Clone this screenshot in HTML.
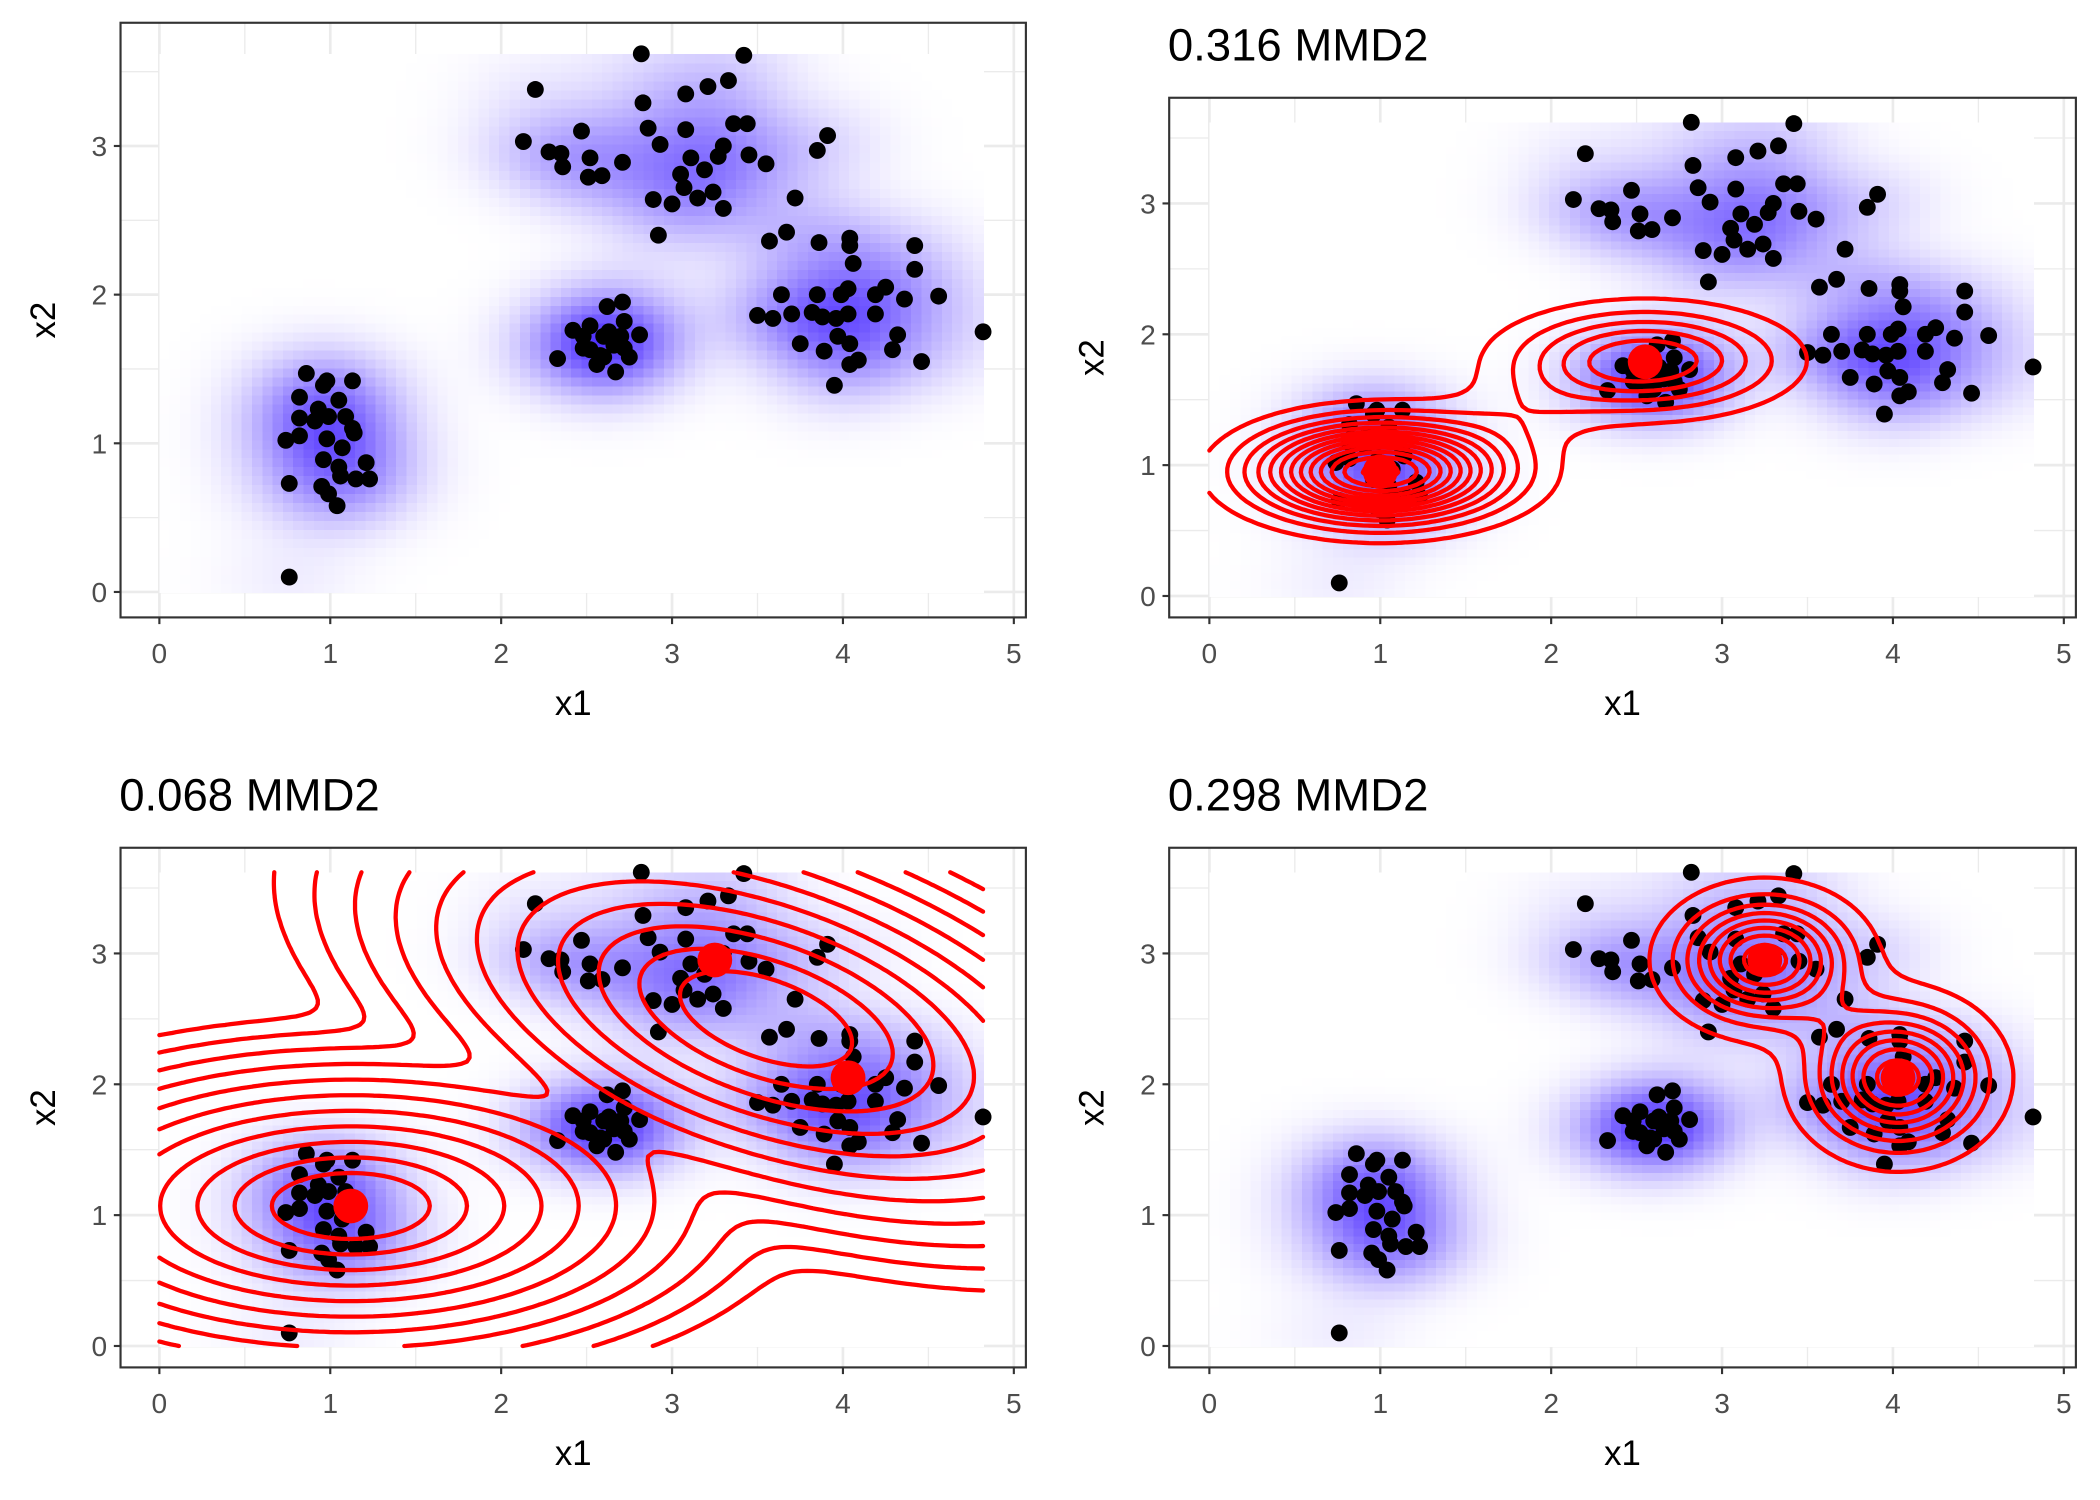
<!DOCTYPE html>
<html><head><meta charset="utf-8"><style>
html,body{margin:0;padding:0;background:#fff;}
#wrap{width:2100px;height:1500px;}
svg{display:block;font-family:"Liberation Sans",Arial,sans-serif;}
</style></head><body>
<div id="wrap">
<svg id="fig" width="2100" height="1500" viewBox="0 0 1568 1120"></svg>
</div>
<script>
// ---- data (observed points) ----
const x1Values=[2.82,3.42,2.20,3.33,3.21,3.08,2.83,2.86,3.08,3.36,3.44,2.13,2.28,2.35,2.36,2.47,2.52,2.51,2.59,2.71,2.93,3.11,3.05,3.19,3.27,3.30,3.45,3.55,3.91,3.85,3.07,3.15,3.24,3.30,3.00,2.89,3.72,2.92,
3.57,3.67,3.86,4.04,4.04,4.06,4.42,4.42,3.50,3.59,3.64,3.70,3.85,3.82,3.88,3.96,3.99,4.03,4.03,4.19,4.25,4.36,4.56,4.19,4.32,4.29,4.46,3.75,3.89,3.97,4.04,4.04,4.09,3.95,4.82,
2.33,2.42,2.62,2.71,2.72,2.81,2.48,2.52,2.56,2.67,2.75,2.60,2.66,2.52,2.70,2.58,2.63,2.72,2.48,2.60,
0.86,0.98,1.13,0.96,0.82,1.05,0.93,0.82,0.91,0.99,1.09,1.13,1.14,0.82,0.74,0.98,1.07,0.96,1.21,1.05,0.76,0.95,1.23,1.15,1.06,0.99,1.04,0.76];
const x2Values=[3.62,3.61,3.38,3.44,3.40,3.35,3.29,3.12,3.11,3.15,3.15,3.03,2.96,2.95,2.86,3.10,2.92,2.79,2.80,2.89,3.01,2.92,2.81,2.84,2.93,3.00,2.94,2.88,3.07,2.97,2.72,2.65,2.69,2.58,2.61,2.64,2.65,2.40,
2.36,2.42,2.35,2.38,2.33,2.21,2.33,2.17,1.86,1.84,2.00,1.87,2.00,1.88,1.85,1.84,2.00,2.04,1.87,2.00,2.05,1.97,1.99,1.87,1.73,1.63,1.55,1.67,1.62,1.72,1.67,1.53,1.56,1.39,1.75,
1.57,1.76,1.92,1.95,1.82,1.73,1.72,1.63,1.53,1.48,1.58,1.72,1.66,1.79,1.72,1.59,1.75,1.64,1.64,1.58,
1.47,1.42,1.42,1.39,1.31,1.29,1.23,1.17,1.15,1.18,1.18,1.10,1.07,1.05,1.02,1.03,0.97,0.89,0.87,0.84,0.73,0.71,0.76,0.76,0.78,0.66,0.58,0.10];
const densityBandwidth=[0.27,0.2];
const xTicks=[0,1,2,3,4,5];
const yTicks=[0,1,2,3];
const panelTitles=["","0.316 MMD2","0.068 MMD2","0.298 MMD2"];
// mixture components per panel (centre x, centre y, sd x, sd y, rho, amplitude)
const p2CentersX=[1.00,2.55,1.85], p2CentersY=[0.95,1.80,1.40], p2SdX=[0.46,0.50,0.35], p2SdY=[0.24,0.25,0.22], p2Rho=[0,0,0.3], p2Amp=[1,0.45,0.07];
const p3CentersX=[1.12,3.55], p3CentersY=[1.07,2.50], p3SdX=[0.66,0.72], p3SdY=[0.36,0.52], p3Rho=[0,-0.5], p3Amp=[1,1];
const p4CentersX=[3.25,4.03,3.65], p4CentersY=[2.95,2.05,2.5], p4SdX=[0.30,0.30,0.2], p4SdY=[0.28,0.32,0.2], p4Rho=[0,0,0], p4Amp=[1,1,0.06];
const p2MarkersX=[1.00,2.55], p2MarkersY=[0.95,1.79];
const p3MarkersX=[1.12,3.25,4.03], p3MarkersY=[1.07,2.95,2.05];
const p4MarkersX=[3.25,4.03], p4MarkersY=[2.95,2.05];
const p2Levels=[0.075,0.15,0.225,0.3,0.375,0.45,0.525,0.6,0.675,0.75,0.825,0.9,0.975];
const p3LevelRadii=[0.7,1.03,1.36,1.69,2.02,2.35,2.68,3.01,3.34,3.67,4.0];
const p4Levels=[0.08,0.2,0.32,0.44,0.56,0.68,0.8,0.92];

const NS="http://www.w3.org/2000/svg";
const svg=document.getElementById('fig');
function mk(tag,attrs,parent){const e=document.createElementNS(NS,tag);for(const k in attrs)e.setAttribute(k,attrs[k]);(parent||svg).appendChild(e);return e;}

const panels=[
 {L:90,T:17,R:766,B:461,x0:119,xu:127.6,y0:442,yu:111},
 {L:873,T:73,R:1550,B:461,x0:903,xu:127.6,y0:445,yu:97.7},
 {L:90,T:633,R:766,B:1021,x0:119,xu:127.6,y0:1005,yu:97.7},
 {L:873,T:633,R:1550,B:1021,x0:903,xu:127.6,y0:1005,yu:97.7}];
const XMIN=0,XMAX=4.82,YMIN=0,YMAX=3.62;

const NX=80,NY=60;
const dens=[];let dmax=0;
for(let j=0;j<NY;j++){dens.push([]);for(let i=0;i<NX;i++){
 const x=XMIN+(i+0.5)*(XMAX-XMIN)/NX, y=YMIN+(j+0.5)*(YMAX-YMIN)/NY;let s=0;
 for(let k=0;k<x1Values.length;k++){const dx=(x-x1Values[k])/densityBandwidth[0],dy=(y-x2Values[k])/densityBandwidth[1];s+=Math.exp(-0.5*(dx*dx+dy*dy));}
 dens[j].push(s);if(s>dmax)dmax=s;}}

function mixture(cx,cy,sx,sy,rho,amp){return (x,y)=>{let s=0;for(let k=0;k<cx.length;k++){const u=(x-cx[k])/sx[k],v=(y-cy[k])/sy[k],r=rho[k];s+=amp[k]*Math.exp(-(u*u-2*r*u*v+v*v)/(2*(1-r*r)));}return s;};}

function contourPath(f,levels,P){
 const GX=150,GY=115;const g=[];let mx=0;
 for(let j=0;j<=GY;j++){g.push([]);for(let i=0;i<=GX;i++){const v=f(XMIN+i*(XMAX-XMIN)/GX,YMIN+j*(YMAX-YMIN)/GY);g[j].push(v);if(v>mx)mx=v;}}
 let d="";
 const px=x=>P.x0+x*P.xu, py=y=>P.y0-y*P.yu;
 const X=i=>XMIN+i*(XMAX-XMIN)/GX, Y=j=>YMIN+j*(YMAX-YMIN)/GY;
 for(const lf of levels){const lv=lf*mx;
  for(let j=0;j<GY;j++)for(let i=0;i<GX;i++){
   const c=[[i,j],[i+1,j],[i+1,j+1],[i,j+1]];const pts=[];
   for(let e=0;e<4;e++){const a=c[e],b=c[(e+1)%4];const va=g[a[1]][a[0]]-lv,vb=g[b[1]][b[0]]-lv;
    if((va<0)!==(vb<0)){const t=va/(va-vb);pts.push([X(a[0])+t*(X(b[0])-X(a[0])),Y(a[1])+t*(Y(b[1])-Y(a[1]))]);}}
   for(let p=0;p+1<pts.length;p+=2)d+="M"+px(pts[p][0]).toFixed(1)+" "+py(pts[p][1]).toFixed(1)+"L"+px(pts[p+1][0]).toFixed(1)+" "+py(pts[p+1][1]).toFixed(1);
  }}
 return d;}

panels.forEach((P,pi)=>{
 const g=mk('g',{});
 
 
 const bg=mk('rect',{x:P.L,y:P.T,width:P.R-P.L,height:P.B-P.T,fill:'#fff'},g);
 
 
 for(let v=0;v<=5;v+=0.5){const x=P.x0+v*P.xu;if(x>P.R)continue;const l=mk('line',{x1:x,x2:x,y1:P.T,y2:P.B,stroke:'#ebebeb','stroke-width':(v%1===0)?2:1},g);
  
  }
 for(let v=0;v<=4;v+=0.5){const y=P.y0-v*P.yu;if(y<P.T)continue;const l=mk('line',{y1:y,y2:y,x1:P.L,x2:P.R,stroke:'#ebebeb','stroke-width':(v%1===0)?2:1},g);
  
  }
 const rg=mk('g',{'shape-rendering':'crispEdges'},g);
 
 
 const cw=(XMAX-XMIN)/NX*P.xu, ch=(YMAX-YMIN)/NY*P.yu;
 for(let j=0;j<NY;j++)for(let i=0;i<NX;i++){
  const t=Math.pow(dens[j][i]/dmax,0.9);
  const r=Math.round(255-(255-80)*t),gg=Math.round(255-(255-50)*t);
  const x=P.x0+(XMIN+i*(XMAX-XMIN)/NX)*P.xu, y=P.y0-(YMIN+(j+1)*(YMAX-YMIN)/NY)*P.yu;
  const c=mk('rect',{x:x.toFixed(2),y:y.toFixed(2),width:(cw+0.6).toFixed(2),height:(ch+0.6).toFixed(2),fill:`rgb(${r},${gg},255)`},rg);
  
  
 }
 for(let k=0;k<x1Values.length;k++){
  const c=mk('circle',{cx:P.x0+x1Values[k]*P.xu,cy:P.y0-x2Values[k]*P.yu,r:6.3,fill:'#000'},g);
  
  
 }
 let f=null,levels=null,mxs=null,mys=null;
 if(pi===1){f=mixture(p2CentersX,p2CentersY,p2SdX,p2SdY,p2Rho,p2Amp);levels=p2Levels;mxs=p2MarkersX;mys=p2MarkersY;}
 if(pi===2){f=mixture(p3CentersX,p3CentersY,p3SdX,p3SdY,p3Rho,p3Amp);levels=p3LevelRadii.map(r=>Math.exp(-r*r/2));mxs=p3MarkersX;mys=p3MarkersY;}
 if(pi===3){f=mixture(p4CentersX,p4CentersY,p4SdX,p4SdY,p4Rho,p4Amp);levels=p4Levels;mxs=p4MarkersX;mys=p4MarkersY;}
 if(f){
  const cp=mk('path',{d:contourPath(f,levels,P),fill:'none',stroke:'#ff0000','stroke-width':3.2,'stroke-linecap':'round','stroke-linejoin':'round'},g);
  
  
  for(let k=0;k<mxs.length;k++){const m=mk('circle',{cx:P.x0+mxs[k]*P.xu,cy:P.y0-mys[k]*P.yu,r:13,fill:'#ff0000'},g);
   
   }
 }
 const bd=mk('rect',{x:P.L,y:P.T,width:P.R-P.L,height:P.B-P.T,fill:'none',stroke:'#333','stroke-width':1.6},g);
 
 
 xTicks.forEach(v=>{const x=P.x0+v*P.xu;
  const t=mk('line',{x1:x,x2:x,y1:P.B,y2:P.B+5,stroke:'#333','stroke-width':1.6},g);
  
  
  const l=mk('text',{x:x,y:P.B+34,'text-anchor':'middle','font-size':21,fill:'#4d4d4d'},g);l.textContent=v;
  
  });
 yTicks.forEach(v=>{const y=P.y0-v*P.yu;
  const t=mk('line',{x1:P.L-5,x2:P.L,y1:y,y2:y,stroke:'#333','stroke-width':1.6},g);
  
  
  const l=mk('text',{x:P.L-10,y:y+7.5,'text-anchor':'end','font-size':21,fill:'#4d4d4d'},g);l.textContent=v;
  
  });
 const xt=mk('text',{x:(P.L+P.R)/2,y:P.B+73,'text-anchor':'middle','font-size':26,fill:'#000'},g);xt.textContent='x1';
 
 
 const ym=(P.T+P.B)/2;
 const yt=mk('text',{x:P.L-49,y:ym,'text-anchor':'middle','font-size':26,fill:'#000',transform:`rotate(-90 ${P.L-49} ${ym})`},g);yt.textContent='x2';
 
 
 if(panelTitles[pi]){const tt=mk('text',{x:P.L-1,y:P.T-28,'font-size':34,fill:'#000'},g);tt.textContent=panelTitles[pi];
  
  }
});
</script>
</body></html>
